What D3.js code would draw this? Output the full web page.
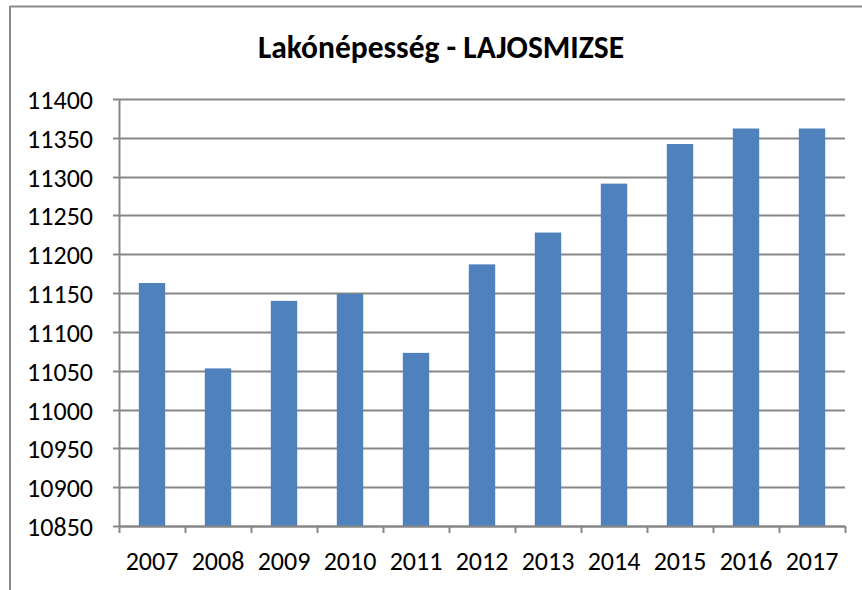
<!DOCTYPE html>
<html>
<head>
<meta charset="utf-8">
<script src="https://cdn.jsdelivr.net/npm/d3@7"></script>
<style>
  html, body { margin: 0; padding: 0; background: #fff; }
  svg { display: block; font-family: Carlito, Calibri, Lato, sans-serif; }
</style>
</head>
<body>
<div id="chart"></div>
<script>
//Data
const years = ['2007', '2008', '2009', '2010', '2011', '2012', '2013', '2014', '2015', '2016', '2017'];
const population = [11163, 11053, 11140, 11149, 11073, 11187, 11228, 11291, 11342, 11362, 11362];
const yTicks = [10850, 10900, 10950, 11000, 11050, 11100, 11150, 11200, 11250, 11300, 11350, 11400];
const title = 'Lakónépesség - LAJOSMIZSE';

const W = 862, H = 590;
const margin = { top: 99, right: 17, bottom: 64, left: 119 };
const innerW = W - margin.left - margin.right;
const innerH = H - margin.top - margin.bottom;

const svg = d3.select('#chart').append('svg').attr('width', W).attr('height', H);

// chart frame (top + left edges visible)
svg.append('line').attr('x1', 10).attr('x2', W).attr('y1', 6.5).attr('y2', 6.5)
  .attr('stroke', '#8c8c8c').attr('stroke-width', 2);
svg.append('line').attr('x1', 10).attr('x2', 10).attr('y1', 6).attr('y2', H)
  .attr('stroke', '#8c8c8c').attr('stroke-width', 2);

svg.append('text')
  .attr('x', 441).attr('y', 58)
  .attr('text-anchor', 'middle')
  .attr('font-size', 31.5).attr('font-weight', 700)
  .attr('fill', '#000')
  .text(title);

const g = svg.append('g').attr('transform', `translate(${margin.left},${margin.top})`);

const x = d3.scaleBand().domain(years).range([0, innerW]).padding(0);
const y = d3.scaleLinear().domain([10850, 11400]).range([innerH, 0]);

// gridlines
g.append('g')
  .selectAll('line')
  .data(yTicks)
  .join('line')
  .attr('x1', -6).attr('x2', innerW)
  .attr('y1', d => Math.round(y(d)) + 0.5).attr('y2', d => Math.round(y(d)) + 0.5)
  .attr('stroke', '#878787').attr('stroke-width', 2);

// y labels
g.append('g')
  .selectAll('text')
  .data(yTicks)
  .join('text')
  .attr('x', -26).attr('y', d => y(d) + 1)
  .attr('text-anchor', 'end')
  .attr('dominant-baseline', 'central')
  .attr('font-size', 26)
  .attr('fill', '#000')
  .text(d => d);

// bars
const barW = x.bandwidth() * 0.4;
g.append('g')
  .selectAll('rect')
  .data(years.map((yr, i) => ({ yr, v: population[i] })))
  .join('rect')
  .attr('x', d => x(d.yr) + (x.bandwidth() - barW) / 2)
  .attr('y', d => y(d.v))
  .attr('width', barW)
  .attr('height', d => innerH - y(d.v))
  .attr('fill', '#4f81bd');

// y axis line
g.append('line').attr('x1', 0.5).attr('x2', 0.5).attr('y1', 0).attr('y2', innerH)
  .attr('stroke', '#878787').attr('stroke-width', 2);

// x axis line and ticks
g.append('line').attr('x1', 0).attr('x2', innerW).attr('y1', innerH + 0.5).attr('y2', innerH + 0.5)
  .attr('stroke', '#878787').attr('stroke-width', 2);
g.append('g')
  .selectAll('line')
  .data(years.concat(['end']))
  .join('line')
  .attr('x1', (d, i) => i * x.step() + 0.5)
  .attr('x2', (d, i) => i * x.step() + 0.5)
  .attr('y1', innerH).attr('y2', innerH + 7)
  .attr('stroke', '#878787').attr('stroke-width', 2);

// x labels
g.append('g')
  .selectAll('text')
  .data(years)
  .join('text')
  .attr('x', d => x(d) + x.bandwidth() / 2)
  .attr('y', innerH + 44)
  .attr('text-anchor', 'middle')
  .attr('font-size', 26)
  .attr('fill', '#000')
  .text(d => d);
</script>
</body>
</html>
